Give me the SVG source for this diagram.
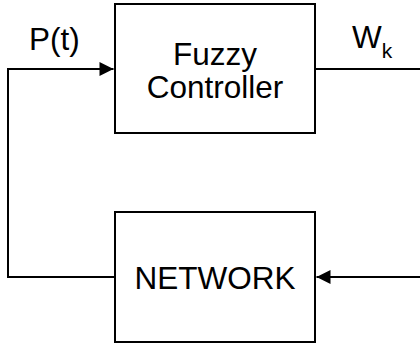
<svg xmlns="http://www.w3.org/2000/svg" width="420" height="351" viewBox="0 0 420 351">
<defs>
<style>
.box{fill:#fff;stroke:#000;stroke-width:2}
.lbl{font-family:"Liberation Sans",Arial,sans-serif;font-size:31.5px;fill:#000}
.c{text-anchor:middle}
.wire{fill:none;stroke:#000;stroke-width:2}
</style>
<marker id="arr" markerUnits="userSpaceOnUse" markerWidth="16" markerHeight="16" viewBox="0 0 16 16" refX="15" refY="8" orient="auto">
<path d="M1,1 L15,8 L1,15 Z" fill="#000"/>
</marker>
</defs>
<g id="connectors">
<path class="wire" d="M315,69 H421 V277 H316.5" marker-end="url(#arr)"/>
<path class="wire" d="M115,277 H8 V69 H113.5" marker-end="url(#arr)"/>
</g>
<g id="fuzzy-controller">
<rect class="box" x="115" y="4" width="200" height="129"/>
<text class="lbl c" x="215" y="65">Fuzzy</text>
<text class="lbl c" x="215" y="98">Controller</text>
</g>
<g id="network">
<rect class="box" x="115" y="212" width="200" height="130"/>
<text class="lbl c" x="215" y="289">NETWORK</text>
</g>
<g id="labels">
<text class="lbl" x="29" y="50">P(t)</text>
<text class="lbl" x="352" y="48">W<tspan font-size="21" dy="10">k</tspan></text>
</g>
</svg>
